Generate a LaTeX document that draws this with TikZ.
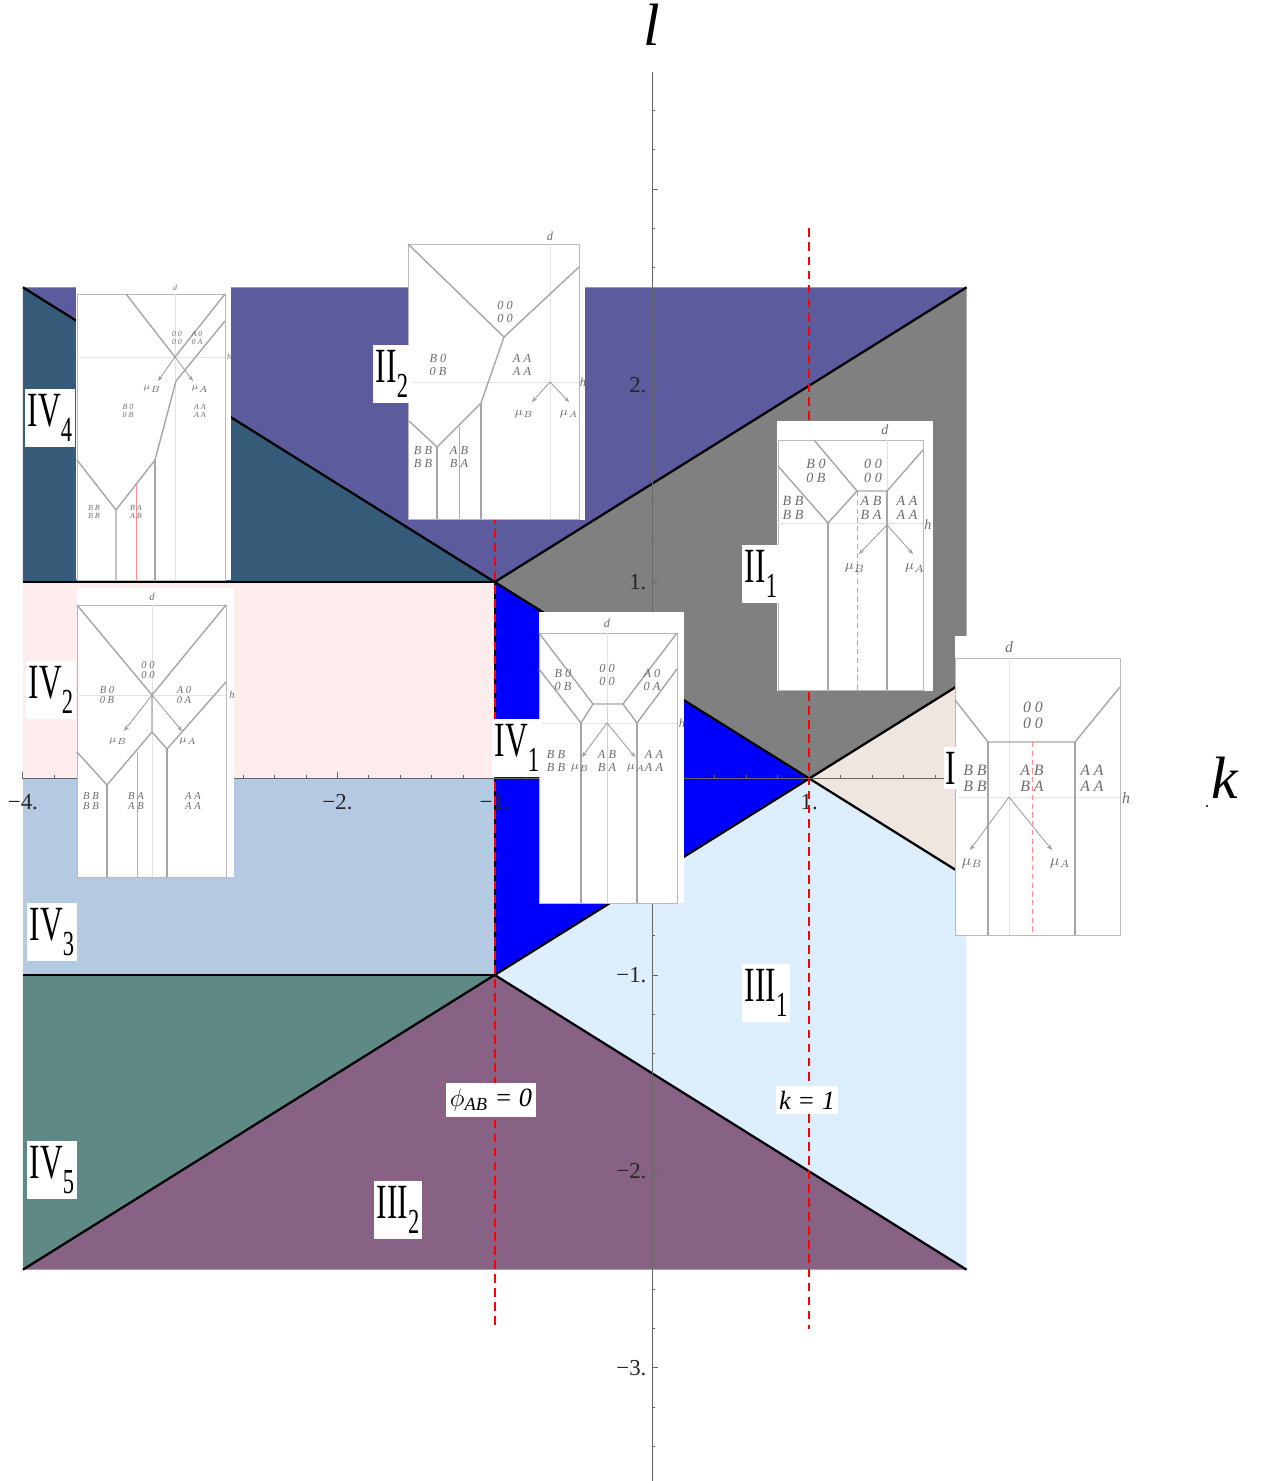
\documentclass[tikz,border=0pt]{standalone}
\usepackage{fontspec}
\setmainfont{Liberation Serif}
\usepackage{graphicx}
\usetikzlibrary{arrows.meta,calc}

\definecolor{regIItwo}{RGB}{91,91,158}
\definecolor{regIVfour}{RGB}{53,91,120}
\definecolor{regIIone}{RGB}{128,128,128}
\definecolor{regIVone}{RGB}{0,0,255}
\definecolor{regI}{RGB}{240,230,224}
\definecolor{regIVtwo}{RGB}{255,236,236}
\definecolor{regIVthree}{RGB}{180,201,226}
\definecolor{regIIIone}{RGB}{221,238,255}
\definecolor{regIVfive}{RGB}{95,137,133}
\definecolor{regIIItwo}{RGB}{135,98,133}

\tikzset{
  bound/.style={line width=1.3pt, black},
  phase/.style={red, line width=1.1pt, dash pattern=on 5pt off 3pt},
  axisline/.style={gray!80!black, line width=0.5pt},
  ticklab/.style={font=\fontsize{13}{13}\selectfont, text=black!85, inner sep=1pt},
  region/.style={fill=white, inner xsep=1.5pt, inner ysep=3pt, font=\fontsize{28}{28}\selectfont},
  inset/.style={fill=white},
  frame/.style={draw=gray!55, line width=0.5pt},
  wall/.style={draw=gray!70, line width=0.8pt},
  guide/.style={draw=gray!22, line width=0.5pt},
  pinkline/.style={draw=red!45, line width=0.4pt},
  flow/.style={draw=gray!75, line width=0.5pt, -{Stealth[length=3pt,width=2.4pt]}},
  tag/.style={text=gray!85!black, align=center, inner sep=0pt, font=\fontsize{#1}{#1}\selectfont\itshape},
  linelab/.style={fill=white, inner xsep=2pt, inner ysep=3pt, font=\fontsize{15}{15}\selectfont\itshape},
}
\newcommand{\RegionName}[2]{\scalebox{0.64}[1]{#1\raisebox{-0.3em}{\fontsize{20}{20}\selectfont #2}}}

\begin{document}
\begin{tikzpicture}[x=0.02cm,y=-0.02cm]

    \useasboundingbox (0,0) rectangle (1266,1481);

    % (k,l) plane
    \begin{scope}[shift={(652,778.5)}, x=3.146cm, y=3.93cm]

    \coordinate (UL) at (-4,2.5);
    \coordinate (UR) at (2,2.5);
    \coordinate (LL) at (-4,-2.5);
    \coordinate (LR) at (2,-2.5);
    \coordinate (A) at (-1,1);
    \coordinate (B) at (-1,-1);
    \coordinate (C) at (1,0);
    \coordinate (RU) at (2,0.5);
    \coordinate (RD) at (2,-0.5);
    \coordinate (W1) at (-4,1);
    \coordinate (W0) at (-4,0);
    \coordinate (W2) at (-4,-1);
    \coordinate (M0) at (-1,0);

	\fill[regIItwo] (UL) -- (UR) -- (A) -- cycle;
	\fill[regIVfour] (UL) -- (A) -- (W1) -- cycle;
	\fill[regIIone] (A) -- (UR) -- (RU) -- (C) -- cycle;
	\fill[regIVone] (A) -- (C) -- (B) -- cycle;
	\fill[regI] (C) -- (RU) -- (RD) -- cycle;
	\fill[regIIIone] (B) -- (C) -- (RD) -- (LR) -- cycle;
	\fill[regIIItwo] (B) -- (LR) -- (LL) -- cycle;
	\fill[regIVfive] (W2) -- (B) -- (LL) -- cycle;
	\fill[regIVtwo] (W1) rectangle (M0);
	\fill[regIVthree] (W0) rectangle (B);

	\draw[bound] (UL) -- (RD);
	\draw[bound] (LL) -- (RU);
	\draw[bound] (A) -- (UR);
	\draw[bound] (B) -- (LR);
	\draw[bound] (W1) -- (A) -- (B) -- (W2);

    \draw[axisline] (-4,0) -- (2,0);
    \draw[axisline] (0,3.595) -- (0,-3.58);
    \foreach \i in {-20,...,10} \draw[axisline] (\i/5,0) -- ++(0,1.8pt);
    \foreach \i in {-4,...,2} \draw[axisline] (\i,0) -- ++(0,3.5pt);
    \foreach \i in {-17,...,17} \draw[axisline] (0,\i/5) -- ++(1.8pt,0);
    \foreach \i in {-3,...,3} \draw[axisline] (0,\i) -- ++(3.5pt,0);

    \foreach \k/\t in {-4/−4., -2/−2., -1/−1., 1/1.}
        \node[ticklab, yshift=-13.6pt] (tk\k) at (\k,0) {\t};
    \foreach \l/\t in {2/2., 1/1., -1/−1., -2/−2., -3/−3.}
        \node[ticklab, anchor=east, xshift=-2pt] (tl\l) at (0,\l) {\t};

	\draw[phase] (-1,2.7) -- (-1,-2.8);
	\draw[phase] (1,2.8) -- (1,-2.8);

    \end{scope}

    \node[font=\fontsize{34}{34}\selectfont\itshape] (lab-l) at (652,25) {l};
    \node[font=\fontsize{34}{34}\selectfont\itshape] (lab-k) at (1225,778) {k};
    \fill (1207,806) circle (1.2);

    % inset IV_4
    \fill[inset] (76,287) rectangle (231,580);
    \draw[frame] (77,294) rectangle (225,580);
    \draw[guide] (175,294) -- (175,580);
    \draw[guide] (77,357) -- (225,357);
    \draw[wall] (126,294) -- (175,357) -- (225,294);
    \draw[wall] (225,321) -- (176,381) -- (155,460) -- (116,510) -- (116,580);
    \draw[wall] (77,460) -- (116,510);
    \draw[wall] (155,460) -- (155,580);
    \draw[pinkline] (136,485) -- (136,580);
    \draw[flow] (175,357) -- (193,381);
    \draw[flow] (175,357) -- (158,381);
    \node[tag=4.5] (a4d) at (175,288) {d};
    \node[tag=4.5] (a4h) at (229,357) {h};
    \node[tag=4.5] (a4o) at (177,338) {0 0\\0 0};
    \node[tag=4.5] (a4a) at (197,338) {A 0\\0 A};
    \node[tag=4.5] (a4b) at (128,411) {B 0\\0 B};
    \node[tag=4.5] (a4aa) at (200,411) {A A\\A A};
    \node[tag=4.5] (a4bb) at (94,512) {B B\\B B};
    \node[tag=4.5] (a4ab) at (136,512) {B A\\A B};
    \node[tag=4.5] (a4mb) at (152,389) {$\mu_B$};
    \node[tag=4.5] (a4ma) at (200,389) {$\mu_A$};

    % inset II_2
    \fill[inset] (408,230) rectangle (585,520);
    \draw[frame] (408,244) rectangle (579,519);
    \draw[guide] (550,244) -- (550,519);
    \draw[guide] (413,382) -- (579,382);
    \draw[wall] (408,244) -- (504,337) -- (579,267);
    \draw[wall] (504,337) -- (481,403) -- (437,447) -- (409,421);
    \draw[wall] (437,447) -- (437,519);
    \draw[wall] (481,403) -- (481,519);
    \draw[pinkline] (459,427) -- (459,519);
    \draw[flow] (550,382) -- (532,402);
    \draw[flow] (550,382) -- (569,402);
    \node[tag=7] (b2d) at (550,236) {d};
    \node[tag=7] (b2h) at (583,382) {h};
    \node[tag=7] (b2o) at (505,312) {0 0\\0 0};
    \node[tag=7] (b2b) at (438,365) {B 0\\0 B};
    \node[tag=7] (b2aa) at (522,365) {A A\\A A};
    \node[tag=7] (b2bb) at (423,457) {B B\\B B};
    \node[tag=7] (b2ab) at (459,457) {A B\\B A};
    \node[tag=7] (b2mb) at (524,414) {$\mu_B$};
    \node[tag=7] (b2ma) at (569,414) {$\mu_A$};

    % inset II_1
    \fill[inset] (777,421) rectangle (933,691);
    \draw[frame] (778,440) rectangle (923,690);
    \draw[guide] (887,440) -- (887,690);
    \draw[guide] (778,523) -- (923,523);
    \draw[wall] (778,466) -- (828,523) -- (857,491) -- (887,491) -- (923,450);
    \draw[wall] (814,440) -- (857,491);
    \draw[wall] (828,523) -- (828,690);
    \draw[wall] (887,491) -- (887,690);
    \draw[pinkline, densely dashed] (857,491) -- (857,690);
    \draw[flow] (887,525) -- (859,554);
    \draw[flow] (887,525) -- (913,554);
    \node[tag=8] (b1d) at (885,430) {d};
    \node[tag=8] (b1h) at (928,525) {h};
    \node[tag=8] (b1b) at (816,471) {B 0\\0 B};
    \node[tag=8] (b1o) at (873,471) {0 0\\0 0};
    \node[tag=8] (b1bb) at (793,508) {B B\\B B};
    \node[tag=8] (b1ab) at (871,508) {A B\\B A};
    \node[tag=8] (b1aa) at (907,508) {A A\\A A};
    \node[tag=8] (b1mb) at (855,568) {$\mu_B$};
    \node[tag=8] (b1ma) at (915,568) {$\mu_A$};

    % inset IV_2
    \fill[inset] (77,588) rectangle (234,877);
    \draw[frame] (77,605) rectangle (226,877);
    \draw[guide] (152,605) -- (152,877);
    \draw[guide] (77,695) -- (226,695);
    \draw[wall] (77,605) -- (152,695) -- (226,605);
    \draw[wall] (152,695) -- (152,732) -- (107,785) -- (77,752);
    \draw[wall] (107,785) -- (107,877);
    \draw[wall] (152,732) -- (167,749) -- (226,682);
    \draw[wall] (167,749) -- (167,877);
    \draw[pinkline] (137,752) -- (137,877);
    \draw[flow] (152,695) -- (182,731);
    \draw[flow] (152,695) -- (124,731);
    \node[tag=6] (a2d) at (152,597) {d};
    \node[tag=6] (a2h) at (232,695) {h};
    \node[tag=6] (a2o) at (148,670) {0 0\\0 0};
    \node[tag=6] (a2b) at (107,695) {B 0\\0 B};
    \node[tag=6] (a2a) at (184,695) {A 0\\0 A};
    \node[tag=6] (a2mb) at (118,741) {$\mu_B$};
    \node[tag=6] (a2ma) at (188,741) {$\mu_A$};
    \node[tag=6] (a2bb) at (91,801) {B B\\B B};
    \node[tag=6] (a2ab) at (136,801) {B A\\A B};
    \node[tag=6] (a2aa) at (193,801) {A A\\A A};

    % inset IV_1
    \fill[inset] (539,612) rectangle (684,903);
    \draw[frame] (539,633) rectangle (677,903);
    \draw[guide] (607,633) -- (607,903);
    \draw[guide] (539,723) -- (677,723);
    \draw[wall] (539,633) -- (593,704) -- (623,704) -- (677,633);
    \draw[wall] (539,669) -- (581,723) -- (593,704);
    \draw[wall] (677,669) -- (637,723) -- (623,704);
    \draw[wall] (581,723) -- (581,903);
    \draw[wall] (637,723) -- (637,903);
    \draw[pinkline, draw=red!25] (607,704) -- (607,903);
    \draw[flow] (607,723) -- (582,757);
    \draw[flow] (607,723) -- (635,757);
    \node[tag=7] (a1d) at (607,623) {d};
    \node[tag=7] (a1h) at (682,723) {h};
    \node[tag=7] (a1b) at (563,680) {B 0\\0 B};
    \node[tag=7] (a1o) at (607,675) {0 0\\0 0};
    \node[tag=7] (a1a) at (652,680) {A 0\\0 A};
    \node[tag=7] (a1bb) at (556,761) {B B\\B B};
    \node[tag=7] (a1ab) at (607,761) {A B\\B A};
    \node[tag=7] (a1aa) at (654,761) {A A\\A A};
    \node[tag=7] (a1mb) at (580,768) {$\mu_B$};
    \node[tag=7] (a1ma) at (636,768) {$\mu_A$};

    % inset I
    \fill[inset] (955,636) rectangle (1122,936);
    \draw[frame] (955,658) rectangle (1120,935);
    \draw[guide] (1009,658) -- (1009,935);
    \draw[guide] (958,797) -- (1120,797);
    \draw[wall] (955,700) -- (988,742) -- (1075,742) -- (1120,687);
    \draw[wall] (988,742) -- (988,935);
    \draw[wall] (1075,742) -- (1075,935);
    \draw[pinkline, densely dashed] (1032,742) -- (1032,935);
    \draw[flow] (1009,797) -- (970,850);
    \draw[flow] (1009,797) -- (1052,850);
    \node[tag=9] (c1d) at (1009,647) {d};
    \node[tag=9] (c1h) at (1126,798) {h};
    \node[tag=9] (c1o) at (1033,715) {0 0\\0 0};
    \node[tag=9] (c1bb) at (975,778) {B B\\B B};
    \node[tag=9] (c1ab) at (1032,778) {A B\\B A};
    \node[tag=9] (c1aa) at (1092,778) {A A\\A A};
    \node[tag=9] (c1mb) at (972,864) {$\mu_B$};
    \node[tag=9] (c1ma) at (1060,864) {$\mu_A$};

    % region names
    \node[region] (r-IV4) at (50,418) {\RegionName{IV}{4}};
    \node[region] (r-II2) at (392,374) {\RegionName{II}{2}};
    \node[region] (r-II1) at (761,574) {\RegionName{II}{1}};
    \node[region] (r-IV2) at (51,690) {\RegionName{IV}{2}};
    \node[region] (r-IV1) at (517,748) {\RegionName{IV}{1}};
    \node[region, inner xsep=1pt] (r-I) at (951,768) {\scalebox{0.64}[1]{I}};
    \node[region] (r-IV3) at (52,932) {\RegionName{IV}{3}};
    \node[region] (r-III1) at (766,993) {\RegionName{III}{1}};
    \node[region] (r-IV5) at (52,1170) {\RegionName{IV}{5}};
    \node[region] (r-III2) at (398,1210) {\RegionName{III}{2}};

    \node[linelab] (phi0) at (491,1100) {$\phi_{\mathit{AB}}$ = 0};
    \node[linelab] (kone) at (807,1100) {k = 1};

\end{tikzpicture}
\end{document}
